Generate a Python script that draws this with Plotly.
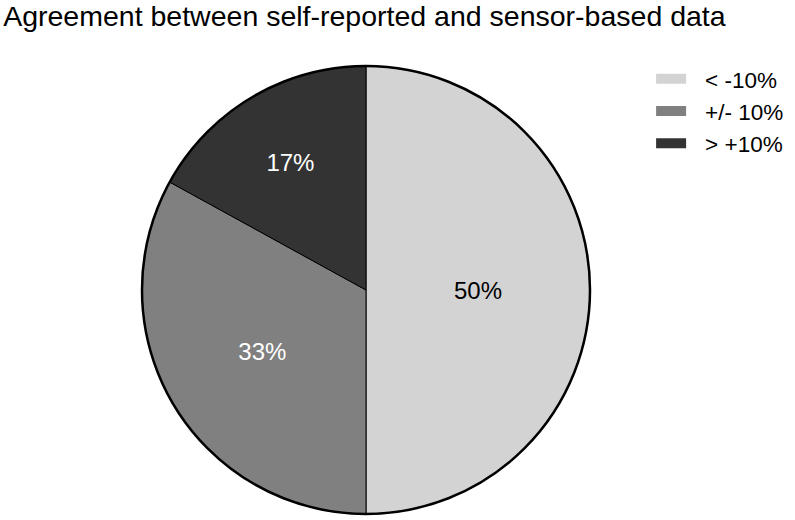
import plotly.graph_objects as go

# shares of participants per agreement band
labels = ["< -10%", "+/- 10%", "> +10%"]
values = [50, 33, 17]
colors = ["#d3d3d3", "#808080", "#333333"]
text_colors = ["black", "white", "white"]

W, H = 795, 520
dom_x = [142 / W, 590 / W]
dom_y = [6 / H, 454 / H]
FONT = "Liberation Sans, Arial"

fig = go.Figure()
fig.add_trace(go.Pie(
    labels=labels,
    values=values,
    sort=False,
    direction="clockwise",
    rotation=0,
    marker=dict(colors=colors, line=dict(color="black", width=1)),
    texttemplate="%{percent:.0%}",
    textposition="inside",
    insidetextorientation="horizontal",
    insidetextfont=dict(color=text_colors, size=24, family=FONT),
    domain=dict(x=dom_x, y=dom_y),
    hoverinfo="label+percent",
    showlegend=False,
))

# legend entries: a 30px flat swatch, then a gap before the label
for lab, col in zip(labels, colors):
    fig.add_trace(go.Scatter(
        x=[None], y=[None], mode="lines", name=lab,
        line=dict(color=col, width=13, dash="30px,30px"), hoverinfo="skip",
    ))

# thicker outer rim, as in the original
fig.add_shape(type="circle", xref="paper", yref="paper",
              x0=dom_x[0], x1=dom_x[1], y0=dom_y[0], y1=dom_y[1],
              line=dict(color="black", width=2.5), fillcolor="rgba(0,0,0,0)")

fig.update_layout(
    width=W, height=H,
    margin=dict(l=0, r=0, t=0, b=0),
    paper_bgcolor="white",
    plot_bgcolor="white",
    font=dict(family=FONT, color="black"),
    title=dict(text="Agreement between self-reported and sensor-based data",
               x=0.004, xanchor="left", y=1 - 16 / H, yanchor="middle",
               font=dict(size=28.5, color="black")),
    xaxis=dict(visible=False),
    yaxis=dict(visible=False),
    legend=dict(x=0.819, y=0.889, xanchor="left", yanchor="top",
                font=dict(size=22.5), itemwidth=44, tracegroupgap=0,
                bgcolor="rgba(0,0,0,0)"),
)

fig.write_html("out.html", config={"displayModeBar": False},
               post_script="document.body.style.margin='0';")
